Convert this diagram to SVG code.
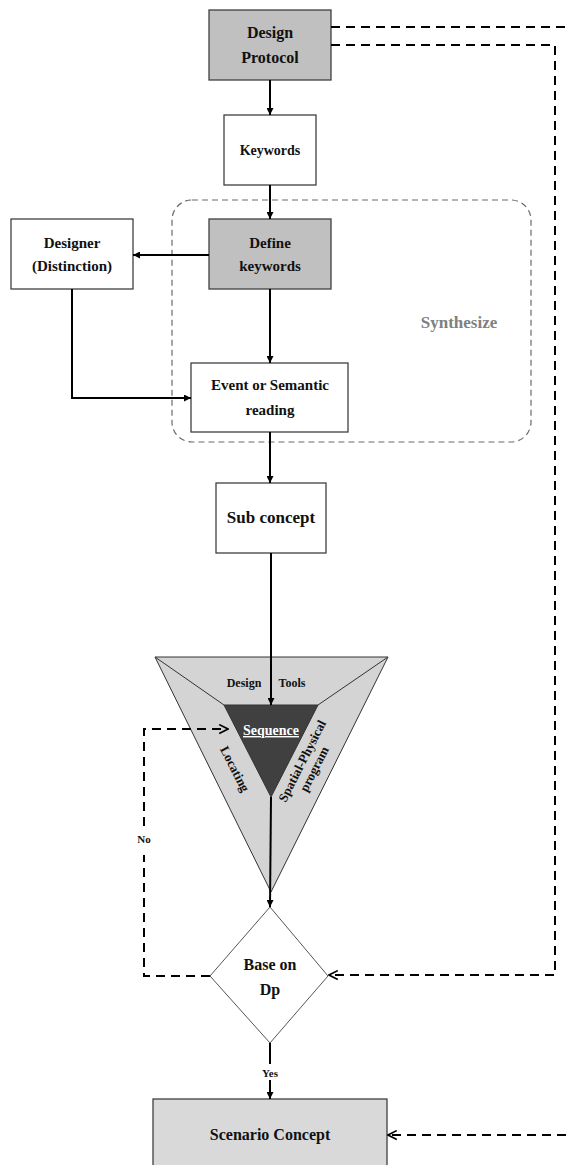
<svg xmlns="http://www.w3.org/2000/svg" width="566" height="1165" viewBox="0 0 566 1165">
<defs>
<marker id="ah" viewBox="0 0 10 10" refX="10" refY="5" markerWidth="7" markerHeight="7" orient="auto" markerUnits="userSpaceOnUse">
<path d="M0,0 L10,5 L0,10 z" fill="#000"/>
</marker>
<marker id="oh" viewBox="0 0 10 10" refX="9" refY="5" markerWidth="11" markerHeight="11" orient="auto" markerUnits="userSpaceOnUse">
<path d="M1,1 L9,5 L1,9" fill="none" stroke="#000" stroke-width="1.5"/>
</marker>
</defs>
<style>
.box{stroke:#404040;stroke-width:1.3}
.w{fill:#fff}
.g{fill:#c0c0c0}
.lg{fill:#d9d9d9}
.t{font-family:"Liberation Serif","Times New Roman",serif;font-weight:bold;fill:#111;text-anchor:middle}
.ln{fill:none;stroke:#000;stroke-width:2}
.dash{fill:none;stroke:#000;stroke-width:2;stroke-dasharray:9,6}
</style>

<g id="synthesize">
<rect x="172" y="200" width="359" height="242" rx="20" ry="20" fill="none" stroke="#6a6a6a" stroke-width="1.2" stroke-dasharray="6,4"/>
<text class="t" x="459" y="328" font-size="17" style="fill:#808080">Synthesize</text>
</g>

<g id="design-protocol">
<rect class="box g" x="209" y="10" width="122" height="70"/>
<text class="t" x="270" y="38" font-size="16">Design</text>
<text class="t" x="270" y="63" font-size="16">Protocol</text>
</g>

<g id="keywords">
<rect class="box w" x="224" y="115" width="92" height="70"/>
<text class="t" x="270" y="155" font-size="14">Keywords</text>
</g>

<g id="designer">
<rect class="box w" x="11" y="219" width="122" height="70"/>
<text class="t" x="72" y="248" font-size="15">Designer</text>
<text class="t" x="72" y="271" font-size="15">(Distinction)</text>
</g>

<g id="define-keywords">
<rect class="box g" x="209" y="219" width="122" height="70"/>
<text class="t" x="270" y="248" font-size="15">Define</text>
<text class="t" x="270" y="271" font-size="15">keywords</text>
</g>

<g id="event">
<rect class="box w" x="191" y="363" width="157" height="69"/>
<text class="t" x="270" y="390" font-size="15">Event or Semantic</text>
<text class="t" x="270" y="415" font-size="15">reading</text>
</g>

<g id="sub-concept">
<rect class="box w" x="216" y="483" width="110" height="70"/>
<text class="t" x="271" y="523" font-size="17">Sub concept</text>
</g>

<g id="design-tools">
<polygon points="155,657 388,657 271,892" fill="#d4d4d4" stroke="#333" stroke-width="1"/>
<polygon points="224,705 318,705 271,797" fill="#404040" stroke="#333" stroke-width="1"/>
<line x1="155" y1="657" x2="224" y2="705" stroke="#333" stroke-width="1"/>
<line x1="388" y1="657" x2="318" y2="705" stroke="#333" stroke-width="1"/>
<text class="t" x="244" y="687" font-size="12">Design</text>
<text class="t" x="292" y="687" font-size="12">Tools</text>
<text class="t" x="271" y="735" font-size="14" text-decoration="underline" style="fill:#fff">Sequence</text>
<text class="t" font-size="13" transform="translate(231,771) rotate(63)">Locating</text>
<text class="t" font-size="13" transform="translate(306,763) rotate(-63)">Spatial-Physical</text>
<text class="t" font-size="13" transform="translate(318,771) rotate(-63)">program</text>
</g>

<g id="base-on-dp">
<polygon points="270,907 328,976 270,1043 210,976" fill="#fff" stroke="#555" stroke-width="1"/>
<text class="t" x="270" y="970" font-size="16">Base on</text>
<text class="t" x="270" y="995" font-size="16">Dp</text>
</g>

<g id="scenario-concept">
<rect class="box lg" x="153" y="1099" width="234" height="80"/>
<text class="t" x="270" y="1140" font-size="16">Scenario Concept</text>
</g>

<g id="connectors">
<line class="ln" x1="270" y1="80" x2="270" y2="115" marker-end="url(#ah)"/>
<line class="ln" x1="270" y1="185" x2="270" y2="219" marker-end="url(#ah)"/>
<line class="ln" x1="209" y1="255" x2="133" y2="255" marker-end="url(#ah)"/>
<polyline class="ln" points="72,289 72,398 191,398" marker-end="url(#ah)"/>
<line class="ln" x1="270" y1="289" x2="270" y2="363" marker-end="url(#ah)"/>
<line class="ln" x1="270" y1="432" x2="270" y2="483" marker-end="url(#ah)"/>
<line class="ln" x1="271" y1="553" x2="271" y2="705" marker-end="url(#ah)"/>
<line class="ln" x1="271" y1="797" x2="270" y2="907" marker-end="url(#ah)"/>
<line class="ln" x1="270" y1="1043" x2="270" y2="1064"/>
<line class="ln" x1="270" y1="1080" x2="270" y2="1099" marker-end="url(#ah)"/>
<text class="t" x="270" y="1077" font-size="11">Yes</text>
<line class="dash" x1="331" y1="27" x2="566" y2="27"/>
<polyline class="dash" points="331,45 555,45 555,975 329,975" marker-end="url(#oh)"/>
<polyline class="dash" points="210,976 144,976 144,855"/>
<polyline class="dash" points="144,826 144,729 228,729" marker-end="url(#oh)"/>
<text class="t" x="144" y="843" font-size="11">No</text>
<line class="dash" x1="566" y1="1135" x2="388" y2="1135" marker-end="url(#oh)"/>
</g>
</svg>
